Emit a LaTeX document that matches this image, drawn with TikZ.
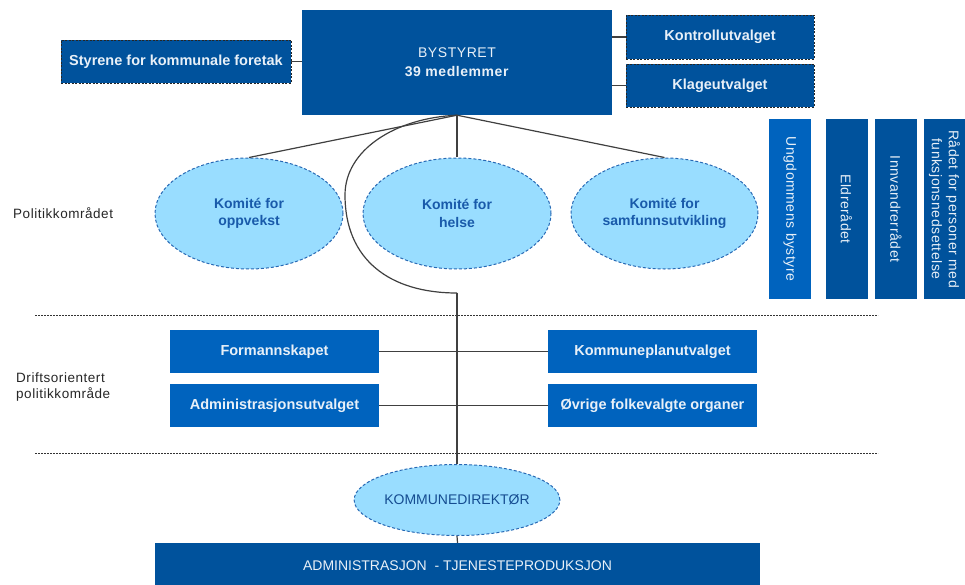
\documentclass[tikz,border=0pt]{standalone}
\usepackage{fontspec}
\setmainfont{Liberation Sans}
\newfontfamily\spc[LetterSpace=4]{Liberation Sans}
\usetikzlibrary{shapes.geometric}
\definecolor{dblue}{RGB}{0,82,156}
\definecolor{mblue}{RGB}{0,99,190}
\definecolor{lcyan}{RGB}{153,221,255}
\definecolor{eborder}{RGB}{40,105,180}
\definecolor{etext}{RGB}{25,90,170}
\definecolor{ltext}{RGB}{232,240,248}
\definecolor{lnc}{RGB}{64,64,64}
\begin{document}
\begin{tikzpicture}[x=1pt,y=-1pt,
  box/.style={rectangle, inner sep=0pt, align=center, text=ltext, font=\fontsize{14.5}{16}\selectfont\bfseries},
  dbox/.style={box, fill=dblue},
  mbox/.style={box, fill=mblue, minimum width=209pt, minimum height=43pt},
  dashbox/.style={dbox, draw=black!85, dash pattern=on 2pt off 1.5pt, line width=0.9pt},
  vbox/.style={rectangle, rotate=-90, inner sep=0pt, fill=dblue, minimum width=180pt, minimum height=42pt, align=center, text=ltext, font=\spc\fontsize{14}{17}\selectfont},
  kom/.style={ellipse, fill=lcyan, draw=eborder, dash pattern=on 3pt off 2pt, line width=1pt, inner sep=0pt, text=etext, align=center, font=\bfseries\fontsize{14}{17.5}\selectfont},
  conn/.style={draw=lnc, line width=1.2pt},
  sep/.style={draw=black!80, dash pattern=on 2pt off 1pt, line width=0.8pt},
  lbl/.style={anchor=west, inner sep=0pt, align=left, font=\spc\fontsize{13.5}{16}\selectfont, text=black!85}
]
\useasboundingbox (0,0) rectangle (965,585);

% top level
\node[dbox, minimum width=310pt, minimum height=105pt, font=\spc\fontsize{14}{19}\selectfont] (by) at (457,62.5) {BYSTYRET\\\textbf{39 medlemmer}};
\node[dashbox, minimum width=230pt, minimum height=43pt] (sty) at (176,61.5) {Styrene for kommunale foretak};
\node[dashbox, minimum width=188pt, minimum height=44pt] (kon) at (720,37) {Kontrollutvalget};
\node[dashbox, minimum width=188pt, minimum height=43pt] (kla) at (720,85.5) {Klageutvalget};

% vertical councils
\node[vbox, fill=mblue] (ung) at (790,209) {Ungdommens bystyre};
\node[vbox] (eld) at (846.5,209) {Eldrerådet};
\node[vbox] (inn) at (896,209) {Innvandrerrådet};
\node[vbox, minimum height=41pt] (raa) at (944.5,209) {Rådet for personer med\\funksjonsnedsettelse};

% committees
\node[kom, minimum width=188pt, minimum height=111pt] (k1) at (249,213.5) {Komité for\\oppvekst};
\node[kom, minimum width=188pt, minimum height=111pt] (k2) at (457,213.5) {Komité for\\helse};
\node[kom, minimum width=187pt, minimum height=111pt] (k3) at (664.5,213.5) {Komité for\\samfunnsutvikling};

% labels
\node[lbl] (lp) at (13,213) {Politikkområdet};
\node[lbl] (ld) at (16,387) {Driftsorientert\\politikkområde};

% separators
\draw[sep] (35,315) -- (878,315);
\draw[sep] (35,453) -- (878,453);

% middle boxes
\node[mbox] (fo) at (274.5,351.5) {Formannskapet};
\node[mbox] (ad) at (274.5,405.5) {Administrasjonsutvalget};
\node[mbox] (kp) at (652.5,351.5) {Kommuneplanutvalget};
\node[mbox] (ov) at (652.5,405.5) {Øvrige folkevalgte organer};

% bottom
\node[kom, minimum width=190pt, minimum height=71pt, font=\fontsize{14}{16}\selectfont, text=etext!85!black] (kd) at (457,500) {KOMMUNEDIREKTØR};
\node[dbox, minimum width=605pt, minimum height=46pt, font=\fontsize{14}{16}\selectfont] (adm) at (457.5,566) {ADMINISTRASJON\ \ - TJENESTEPRODUKSJON};

\coordinate (j) at (457,293);

% connectors
\draw[conn] (sty.east) -- (sty.east -| by.west);
\draw[conn] (kon.west -| by.east) -- (kon.west);
\draw[conn] (kla.west -| by.east) -- (kla.west);
\draw[conn] (by.south) -- (k1.north);
\draw[conn] (by.south) -- (k2.north);
\draw[conn] (by.south) -- (k3.north);
\draw[conn] (by.south) .. controls (395,118) and (345,150) .. (345,195) .. controls (345,260) and (390,293) .. (j);
\draw[conn] (j) -- (kd.north);
\draw[conn] (fo.east) -- (kp.west);
\draw[conn] (ad.east) -- (ov.west);
\draw[conn] (kd.south) -- (adm.north);
\end{tikzpicture}
\end{document}
